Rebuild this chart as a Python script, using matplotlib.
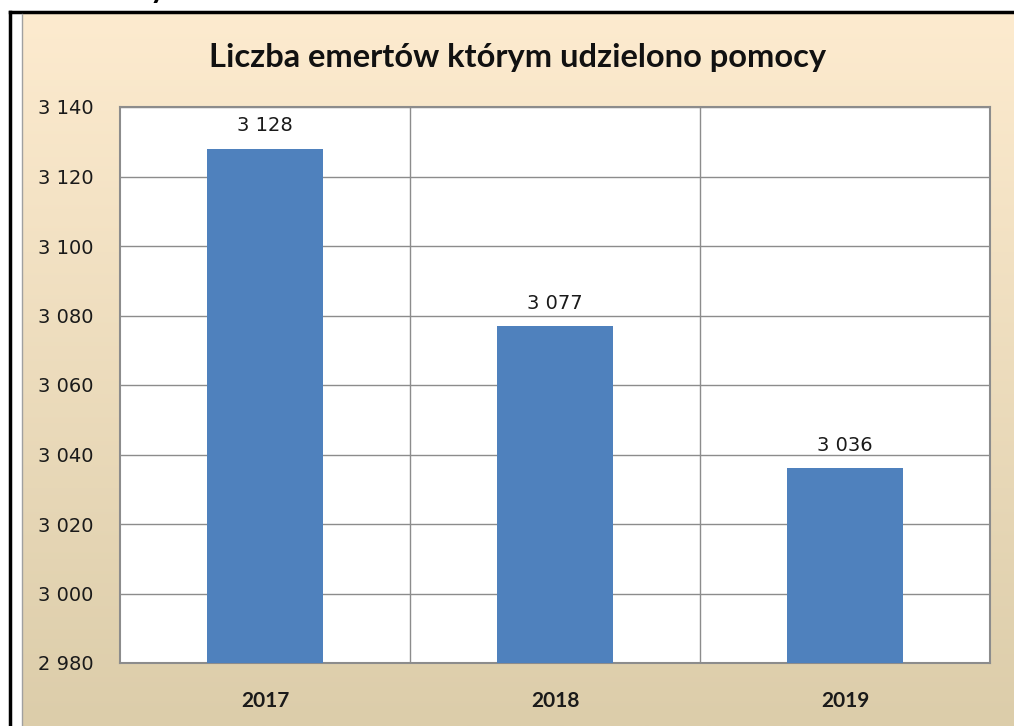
import numpy as np
import matplotlib.pyplot as plt
from matplotlib.lines import Line2D

# Data
years = ['2017', '2018', '2019']
counts = [3128, 3077, 3036]
y_ticks = [2980, 3000, 3020, 3040, 3060, 3080, 3100, 3120, 3140]

def fmt(v):
    return f"{v:,}".replace(',', ' ')

W, H = 1014, 726
fig = plt.figure(figsize=(W / 100, H / 100), dpi=100)
fig.patch.set_facecolor('white')

# beige gradient background inside the frame
bg = fig.add_axes([22 / W, 0, 1 - 22 / W, 1 - 14 / H])
grad = np.linspace(0, 1, 256)[:, None]
top = np.array([253, 235, 207]) / 255
bot = np.array([220, 205, 170]) / 255
img = top[None, None, :] * (1 - grad[:, :, None]) + bot[None, None, :] * grad[:, :, None]
bg.imshow(img, aspect='auto', extent=[0, 1, 0, 1])
bg.set_axis_off()

# black outer frame (top + left) and grey inner line
fig.add_artist(Line2D([10 / W, 1], [1 - 12 / H, 1 - 12 / H], color='black', lw=2.5,
                      transform=fig.transFigure))
fig.add_artist(Line2D([10 / W, 10 / W], [0, 1 - 12 / H], color='black', lw=2.5,
                      transform=fig.transFigure))
fig.add_artist(Line2D([22 / W, 22 / W], [0, 1 - 14 / H], color='#a0a0a0', lw=1,
                      transform=fig.transFigure))

# cut off letter above the frame (only its tail shows in the source)
fig.text(158 / W, 1 + 2 / H, 'y', fontsize=22, fontweight='bold', family='Lato',
         ha='center', va='baseline', color='black')

ax = fig.add_axes([120 / W, 1 - 663 / H, (990 - 120) / W, (663 - 107) / H])
ax.set_facecolor('white')
x = np.arange(len(years))
ax.bar(x, counts, width=0.4, color='#4F81BD', zorder=3)
ax.set_xlim(-0.5, len(years) - 0.5)
ax.set_ylim(2980, 3140)
ax.set_yticks(y_ticks)
ax.set_yticklabels([fmt(v) for v in y_ticks], fontsize=14, family='DejaVu Sans')
ax.set_xticks(x)
ax.set_xticklabels(years, fontsize=15, fontweight='bold', family='Lato')
ax.tick_params(axis='both', length=0, colors='#1a1a1a')
ax.tick_params(axis='y', pad=59)
ax.tick_params(axis='x', pad=20)
for lab in ax.get_yticklabels():
    lab.set_ha('left')

# grid: horizontal at ticks, vertical at category boundaries
for v in y_ticks:
    ax.axhline(v, color='#8c8c8c', lw=1, zorder=1)
for b in [0.5, 1.5]:
    ax.axvline(b, color='#8c8c8c', lw=1, zorder=1)
for s in ax.spines.values():
    s.set_color('#8c8c8c')
    s.set_linewidth(1.5)

for xi, v in zip(x, counts):
    ax.text(xi, v + 5, fmt(v), ha='center', va='baseline', fontsize=14,
            family='DejaVu Sans', color='#1a1a1a')

fig.text(518 / W, 1 - 67 / H, 'Liczba emertów którym udzielono pomocy',
         ha='center', va='baseline', fontsize=23.5, fontweight='bold', family='Lato',
         color='#111111')

fig.savefig('out.png', dpi=100)
